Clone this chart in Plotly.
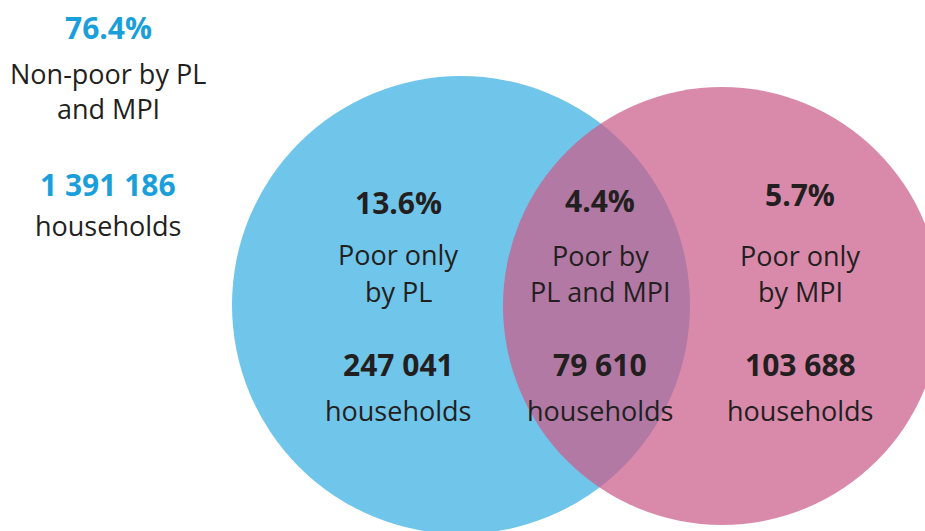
import plotly.graph_objects as go

# ---- data ----
group_pct = ["76.4%", "13.6%", "4.4%", "5.7%"]
group_label_line1 = ["Non-poor by PL", "Poor only", "Poor by", "Poor only"]
group_label_line2 = ["and MPI", "by PL", "PL and MPI", "by MPI"]
group_households = [1391186, 247041, 79610, 103688]
unit_label = "households"

# ---- layout geometry (page-pixel coordinates) ----
W, H = 925, 531
col_x = [108, 398, 600, 800]
pct_y = [27, 202, 200, 194]
line1_y = [73, 254, 255, 255]
line2_y = [108, 291, 291, 291]
num_y = [184, 364, 364, 364]
unit_y = [225, 410, 410, 410]
num_color = ["#1A9FDB", "#231F20", "#231F20", "#231F20"]
pct_color = ["#1A9FDB", "#231F20", "#231F20", "#231F20"]

FONT = "Open Sans"
TXT = "#231F20"

fig = go.Figure()

# circles: PL (blue) and MPI (pink, semi transparent on top)
blue_c, blue_r = (461, 305), 229
pink_c, pink_r = (722, 306), 219
fig.add_shape(type="circle", xref="x", yref="y",
              x0=blue_c[0] - blue_r, x1=blue_c[0] + blue_r,
              y0=blue_c[1] - blue_r, y1=blue_c[1] + blue_r,
              fillcolor="#70C5EA", line=dict(width=0), layer="below")
fig.add_shape(type="circle", xref="x", yref="y",
              x0=pink_c[0] - pink_r, x1=pink_c[0] + pink_r,
              y0=pink_c[1] - pink_r, y1=pink_c[1] + pink_r,
              fillcolor="rgba(203,92,137,0.72)", line=dict(width=0), layer="below")

def fmt(n):
    return f"{n:,}".replace(",", " ")

for i in range(len(group_pct)):
    fig.add_annotation(x=col_x[i], y=pct_y[i], text=f"<b>{group_pct[i]}</b>",
                       showarrow=False, xref="x", yref="y",
                       font=dict(family=FONT, size=30, color=pct_color[i]))
    fig.add_annotation(x=col_x[i], y=line1_y[i], text=group_label_line1[i],
                       showarrow=False, xref="x", yref="y",
                       font=dict(family=FONT, size=27, color=TXT))
    fig.add_annotation(x=col_x[i], y=line2_y[i], text=group_label_line2[i],
                       showarrow=False, xref="x", yref="y",
                       font=dict(family=FONT, size=27, color=TXT))
    fig.add_annotation(x=col_x[i], y=num_y[i], text=f"<b>{fmt(group_households[i])}</b>",
                       showarrow=False, xref="x", yref="y",
                       font=dict(family=FONT, size=30, color=num_color[i]))
    fig.add_annotation(x=col_x[i], y=unit_y[i], text=unit_label,
                       showarrow=False, xref="x", yref="y",
                       font=dict(family=FONT, size=27, color=TXT))

fig.update_xaxes(range=[0, W], visible=False, fixedrange=True)
fig.update_yaxes(range=[H, 0], visible=False, fixedrange=True)
fig.update_layout(width=W, height=H,
                  margin=dict(l=0, r=0, t=0, b=0),
                  paper_bgcolor="white", plot_bgcolor="white",
                  showlegend=False)

fig.write_html("out.html", config={"displayModeBar": False},
               post_script="document.body.style.margin='0';document.body.style.overflow='hidden';")
